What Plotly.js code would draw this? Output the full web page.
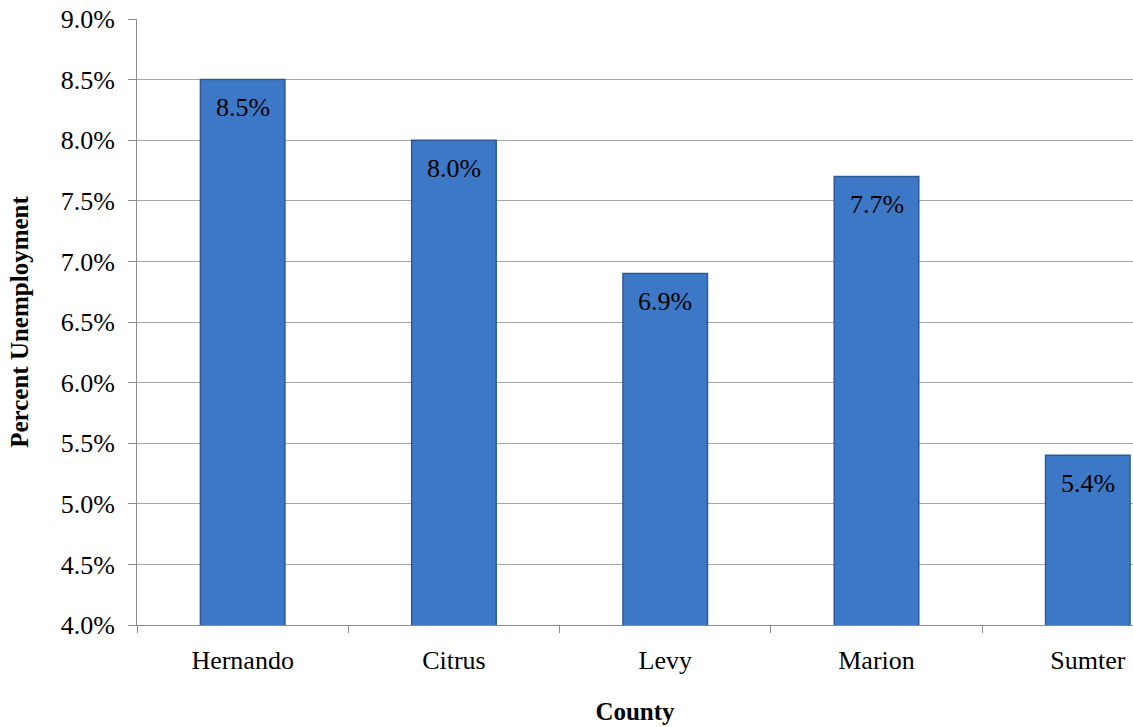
<!DOCTYPE html>
<html>
<head>
<meta charset="utf-8">
<script src="https://cdn.plot.ly/plotly-3.0.1.min.js"></script>
<style>
html,body{margin:0;padding:0;background:#fff;}
#chart{width:1133px;height:727px;}
</style>
</head>
<body>
<div id="chart"></div>
<script>
const counties = ["Hernando", "Citrus", "Levy", "Marion", "Sumter"];
const unemployment = [8.5, 8.0, 6.9, 7.7, 5.4];
const yTickValues = [4.0, 4.5, 5.0, 5.5, 6.0, 6.5, 7.0, 7.5, 8.0, 8.5, 9.0];

const serif = "Liberation Serif, Times New Roman, serif";

const trace = {
  type: "bar",
  x: counties,
  y: unemployment,
  width: 0.4,
  marker: {
    color: "#3d78c6",
    line: {color: "#2c5a98", width: 1.5}
  },
  hoverinfo: "skip"
};

const labels = counties.map((c, i) => ({
  x: c,
  y: unemployment[i],
  xref: "x",
  yref: "y",
  text: unemployment[i].toFixed(1) + "%",
  showarrow: false,
  yanchor: "middle",
  yshift: -28,
  font: {family: serif, size: 26, color: "#000"}
}));

const layout = {
  width: 1133,
  height: 727,
  margin: {l: 137, r: 0, t: 19, b: 102},
  paper_bgcolor: "#fff",
  plot_bgcolor: "#fff",
  showlegend: false,
  annotations: labels,
  xaxis: {
    type: "category",
    range: [-0.5, 4.214],
    showgrid: false,
    showline: true,
    linecolor: "#8c8c8c",
    linewidth: 1,
    ticks: "outside",
    tickson: "boundaries",
    ticklen: 7,
    tickcolor: "#8c8c8c",
    ticklabelstandoff: 12,
    tickfont: {family: serif, size: 26, color: "#000"},
    title: {text: "<b>County</b>", font: {family: serif, size: 25, color: "#000"}, standoff: 28},
    automargin: false,
    fixedrange: true
  },
  yaxis: {
    range: [4.0, 9.0],
    tickvals: yTickValues,
    ticktext: yTickValues.map(v => v.toFixed(1) + "%"),
    showgrid: true,
    gridcolor: "#a6a6a6",
    gridwidth: 1,
    showline: true,
    linecolor: "#8c8c8c",
    linewidth: 1,
    ticks: "outside",
    ticklen: 8,
    tickcolor: "#8c8c8c",
    ticklabelstandoff: 8,
    tickfont: {family: serif, size: 26, color: "#000"},
    title: {text: "<b>Percent Unemployment</b>", font: {family: serif, size: 25, color: "#000"}, standoff: 24},
    automargin: false,
    zeroline: false,
    fixedrange: true
  }
};

Plotly.newPlot("chart", [trace], layout, {staticPlot: true, displayModeBar: false});
</script>
</body>
</html>
